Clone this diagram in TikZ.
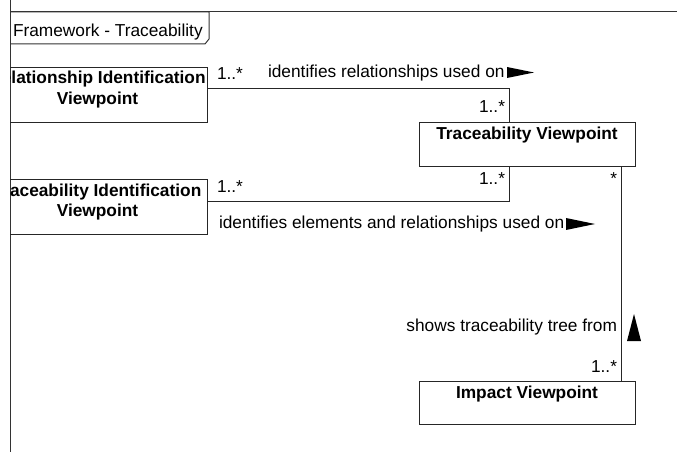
\documentclass[tikz,border=0pt]{standalone}
\usepackage{fontspec}
\setmainfont{Liberation Sans}
\begin{document}
\begin{tikzpicture}[x=1bp,y=-1bp,
  every node/.style={font=\fontsize{17.3bp}{21bp}\selectfont, inner sep=0pt, outer sep=0pt, text=black},
  bold/.style={font=\fontsize{17.3bp}{21bp}\selectfont\bfseries},
  box/.style={draw=black!85, line width=1bp, rectangle, anchor=north west, inner sep=0pt, outer sep=0pt},
  conn/.style={draw=black!85, line width=1bp},
  frameline/.style={draw=black!80, line width=1bp},
  navtri/.style={fill=black}]
\useasboundingbox (0,0) rectangle (677,452);

% diagram frame and its name tag
\draw[frameline] (10,0) -- (10,452);
\draw[frameline] (10,12) -- (677,12);
\draw[frameline] (10,12) -- (209,12) -- (209,39) -- (205,44) -- (10,44);
\node[anchor=base west] (frame) at (13,37) {Framework - Traceability};

% blocks that run past the left edge of the frame
\begin{scope}
  \clip (10,0) rectangle (677,452);
  \node[box, minimum width=219bp, minimum height=55bp] (relid) at (-12,68) {};
  \node[bold, anchor=base] (relidA) at (97.5,84) {Relationship Identification};
  \node[bold, anchor=base] (relidB) at (97.5,105) {Viewpoint};
  \node[box, minimum width=219bp, minimum height=55bp] (trid) at (-12,180) {};
  \node[bold, anchor=base] (tridA) at (97.5,197) {Traceability Identification};
  \node[bold, anchor=base] (tridB) at (97.5,217) {Viewpoint};
\end{scope}

% remaining blocks
\node[box, minimum width=216bp, minimum height=44bp] (tv) at (419,123) {};
\node[bold, anchor=base] (tvA) at (527,140) {Traceability Viewpoint};
\node[box, minimum width=216bp, minimum height=43bp] (imp) at (419,381) {};
\node[bold, anchor=base] (impA) at (527,398) {Impact Viewpoint};

% associations
\draw[conn] ([yshift=-21bp]relid.north east) -| ([xshift=-18bp]tv.north);
\draw[conn] ([yshift=-22bp]trid.north east) -| ([xshift=-18bp]tv.south);
\draw[conn] ([xshift=94bp]tv.south) -- ([xshift=94bp]imp.north);

% multiplicities
\node[anchor=base west] (m1) at (217,80) {1..*};
\node[anchor=base east] (m2) at (505,113) {1..*};
\node[anchor=base east] (m3) at (505,185) {1..*};
\node[anchor=base west] (m4) at (217,193) {1..*};
\node[anchor=base east] (m5) at (617,185) {*};
\node[anchor=base east] (m6) at (617,372) {1..*};

% association names with reading direction
\node[anchor=base west] (l1) at (268,78) {identifies relationships used on};
\fill[navtri] (507,67) -- (534,72.5) -- (507,78) -- cycle;
\node[anchor=base west] (l2) at (219,229) {identifies elements and relationships used on};
\fill[navtri] (566,218) -- (595,224) -- (566,230) -- cycle;
\node[anchor=base east] (l3) at (617,332) {shows traceability tree from};
\fill[navtri] (627,341) -- (634,314) -- (641,341) -- cycle;
\end{tikzpicture}
\end{document}
